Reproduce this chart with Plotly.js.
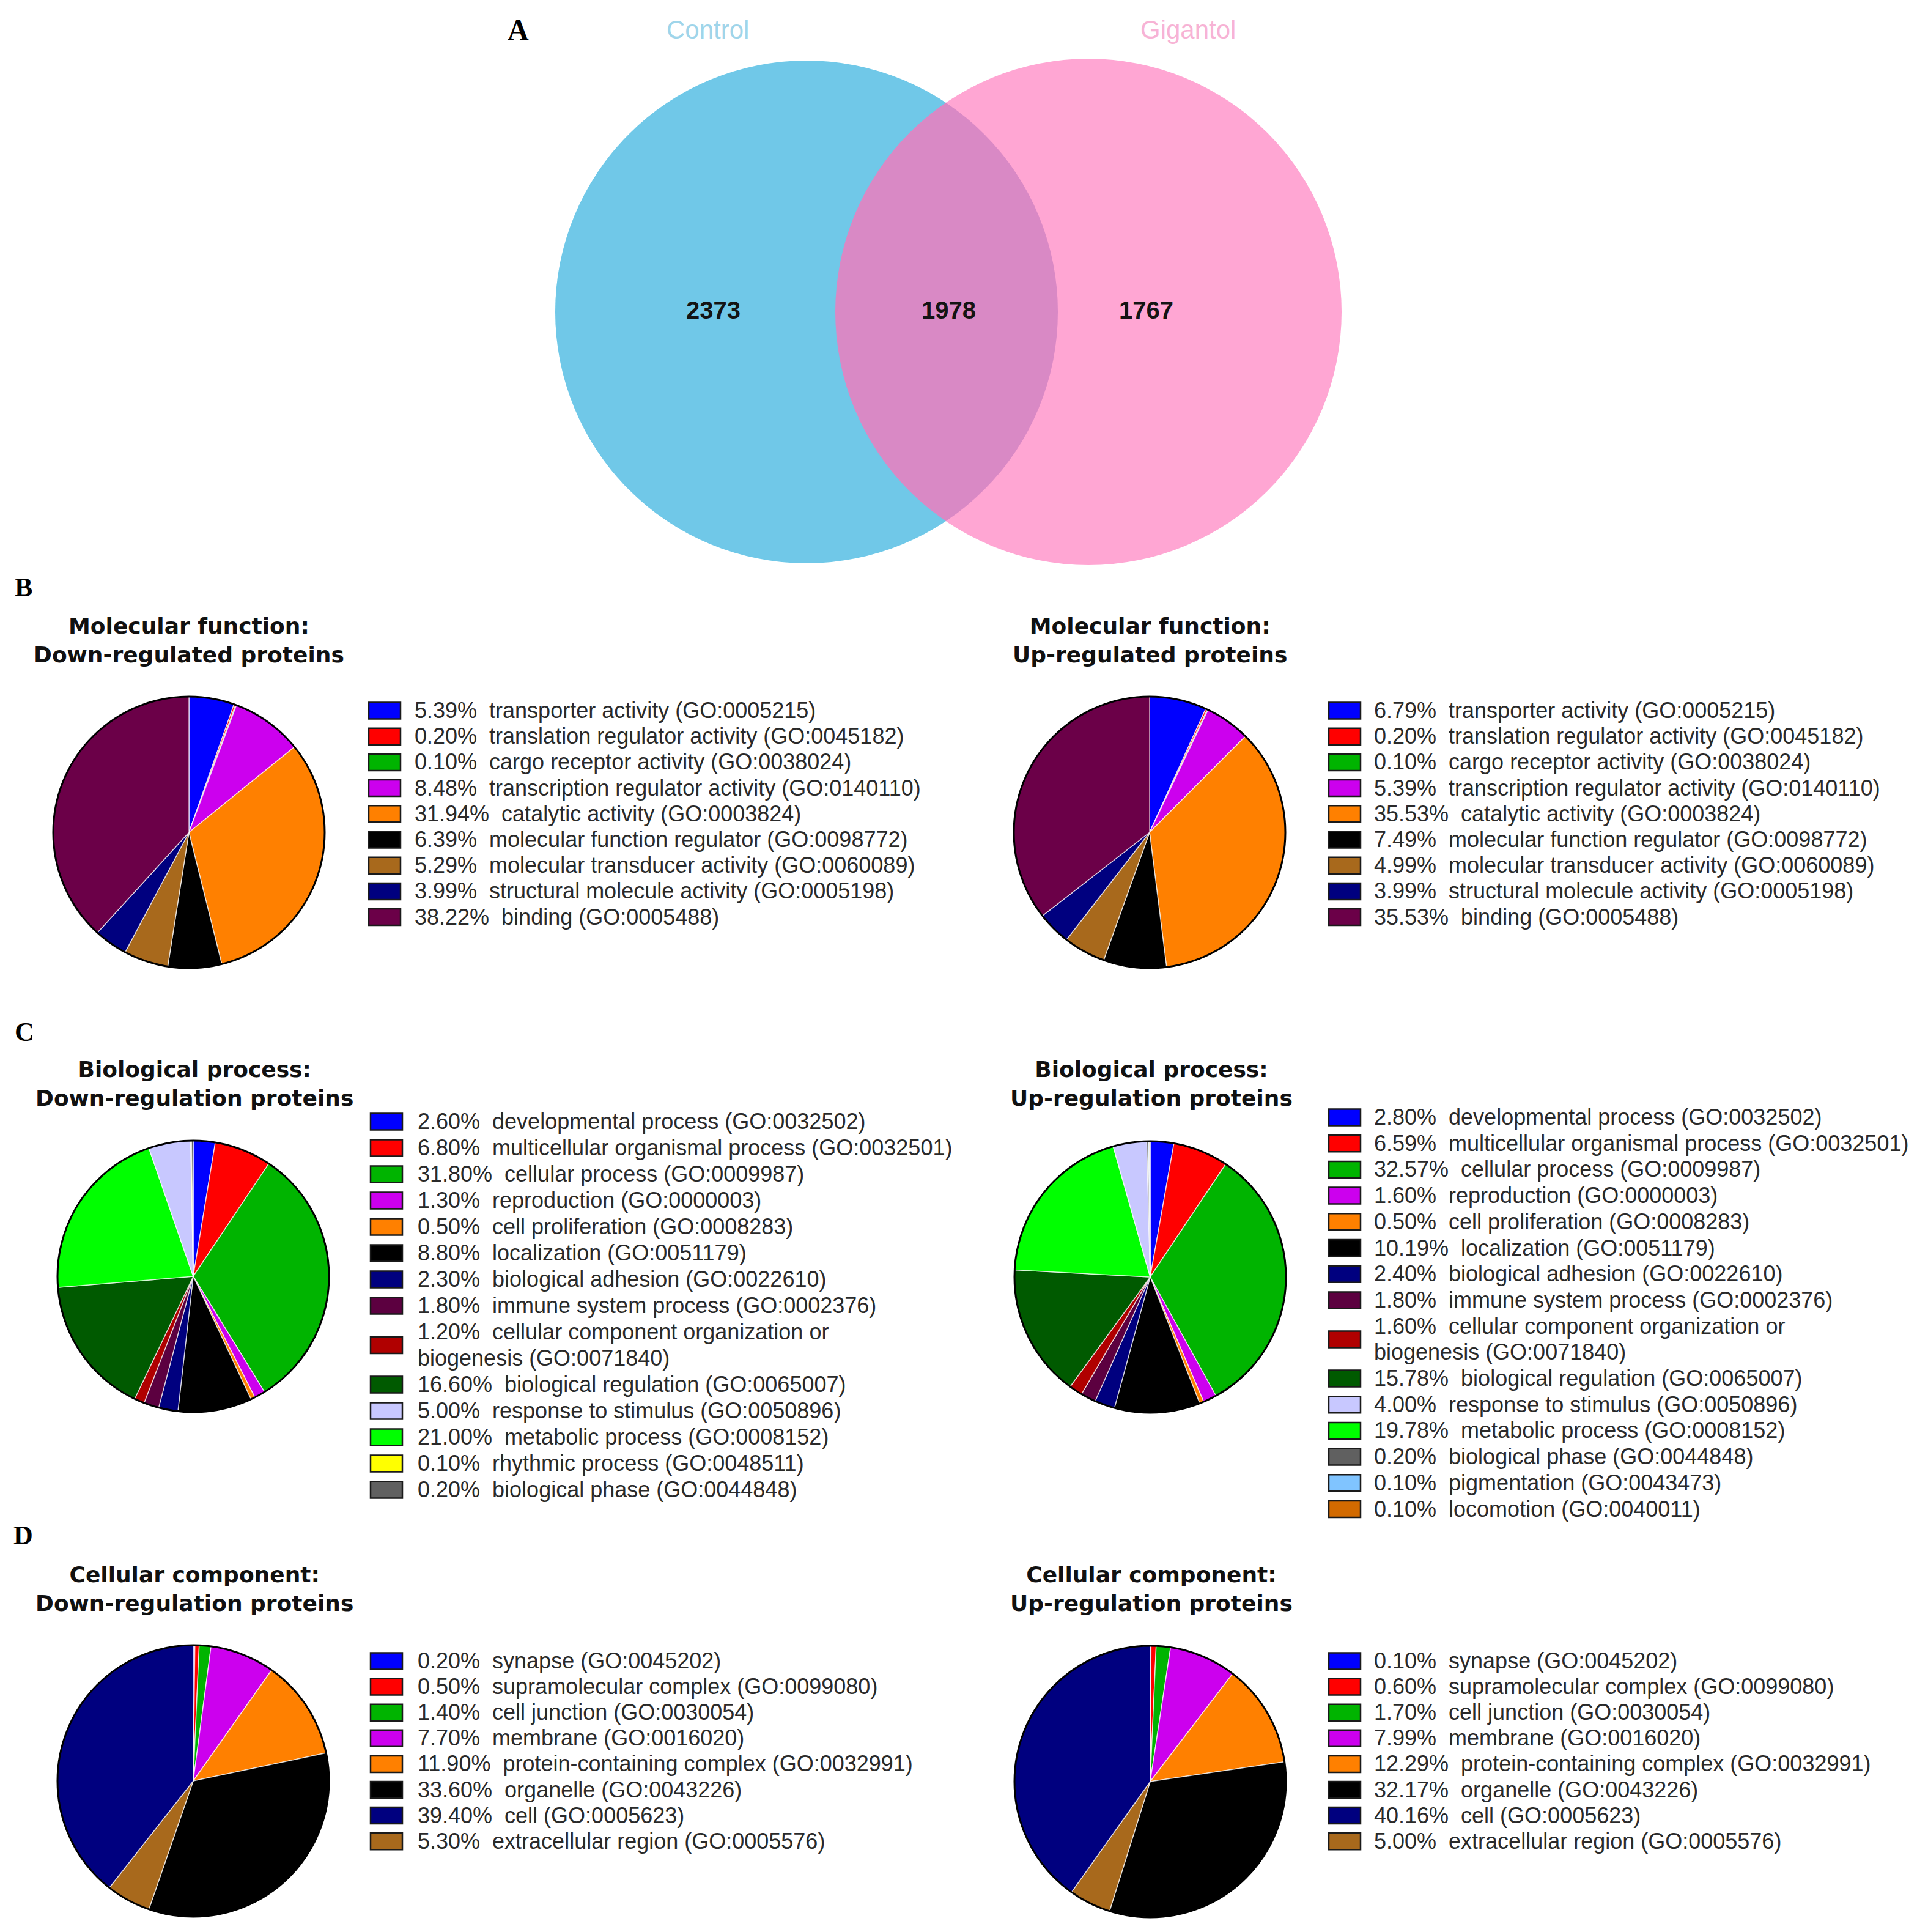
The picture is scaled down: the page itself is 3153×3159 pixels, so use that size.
<!DOCTYPE html>
<html>
<head>
<meta charset="utf-8">
<script src="https://cdn.plot.ly/plotly-3.0.1.min.js"></script>
<style>
html,body{margin:0;padding:0;background:#ffffff;}
#chart{width:3153px;height:3159px;}
</style>
</head>
<body>
<div id="chart"></div>
<script>
// ---------------- DATA ----------------
const vennSets = ["Control", "Gigantol"];
const vennCounts = [2373, 1978, 1767]; // Control only, shared, Gigantol only

const chartTitles = [
  "Molecular function:<br>Down-regulated proteins",
  "Molecular function:<br>Up-regulated proteins",
  "Biological process:<br>Down-regulation proteins",
  "Biological process:<br>Up-regulation proteins",
  "Cellular component:<br>Down-regulation proteins",
  "Cellular component:<br>Up-regulation proteins"
];
const panelLetters = ["A", "B", "C", "D"];

const mfLabels = [
  "transporter activity (GO:0005215)",
  "translation regulator activity (GO:0045182)",
  "cargo receptor activity (GO:0038024)",
  "transcription regulator activity (GO:0140110)",
  "catalytic activity (GO:0003824)",
  "molecular function regulator (GO:0098772)",
  "molecular transducer activity (GO:0060089)",
  "structural molecule activity (GO:0005198)",
  "binding (GO:0005488)"
];
const mfDownValues = [5.39, 0.20, 0.10, 8.48, 31.94, 6.39, 5.29, 3.99, 38.22];
const mfUpValues   = [6.79, 0.20, 0.10, 5.39, 35.53, 7.49, 4.99, 3.99, 35.53];
const mfColors = ["#0000ff", "#ff0000", "#00b400", "#cc00ee", "#ff8000", "#000000", "#a8691c", "#00007f", "#6b0048"];
const mfPieOrder = [0, 1, 2, 3, 4, 5, 6, 7, 8];

const bpDownLabels = [
  "developmental process (GO:0032502)",
  "multicellular organismal process (GO:0032501)",
  "cellular process (GO:0009987)",
  "reproduction (GO:0000003)",
  "cell proliferation (GO:0008283)",
  "localization (GO:0051179)",
  "biological adhesion (GO:0022610)",
  "immune system process (GO:0002376)",
  "cellular component organization or<br>biogenesis (GO:0071840)",
  "biological regulation (GO:0065007)",
  "response to stimulus (GO:0050896)",
  "metabolic process (GO:0008152)",
  "rhythmic process (GO:0048511)",
  "biological phase (GO:0044848)"
];
const bpDownValues = [2.60, 6.80, 31.80, 1.30, 0.50, 8.80, 2.30, 1.80, 1.20, 16.60, 5.00, 21.00, 0.10, 0.20];
const bpDownColors = ["#0000ff", "#ff0000", "#00b400", "#cc00ee", "#ff8000", "#000000", "#00007f", "#5c0040", "#b00000", "#005a00", "#c8c8ff", "#00ff00", "#ffff00", "#606060"];
const bpDownPieOrder = [0, 1, 2, 3, 4, 5, 6, 7, 8, 9, 11, 10, 12, 13];

const bpUpLabels = [
  "developmental process (GO:0032502)",
  "multicellular organismal process (GO:0032501)",
  "cellular process (GO:0009987)",
  "reproduction (GO:0000003)",
  "cell proliferation (GO:0008283)",
  "localization (GO:0051179)",
  "biological adhesion (GO:0022610)",
  "immune system process (GO:0002376)",
  "cellular component organization or<br>biogenesis (GO:0071840)",
  "biological regulation (GO:0065007)",
  "response to stimulus (GO:0050896)",
  "metabolic process (GO:0008152)",
  "biological phase (GO:0044848)",
  "pigmentation (GO:0043473)",
  "locomotion (GO:0040011)"
];
const bpUpValues = [2.80, 6.59, 32.57, 1.60, 0.50, 10.19, 2.40, 1.80, 1.60, 15.78, 4.00, 19.78, 0.20, 0.10, 0.10];
const bpUpColors = ["#0000ff", "#ff0000", "#00b400", "#cc00ee", "#ff8000", "#000000", "#00007f", "#5c0040", "#b00000", "#005a00", "#c8c8ff", "#00ff00", "#606060", "#80c4ff", "#d26a00"];
const bpUpPieOrder = [0, 1, 2, 3, 4, 5, 6, 7, 8, 9, 11, 10, 12, 13, 14];

const ccLabels = [
  "synapse (GO:0045202)",
  "supramolecular complex (GO:0099080)",
  "cell junction (GO:0030054)",
  "membrane (GO:0016020)",
  "protein-containing complex (GO:0032991)",
  "organelle (GO:0043226)",
  "cell (GO:0005623)",
  "extracellular region (GO:0005576)"
];
const ccDownValues = [0.20, 0.50, 1.40, 7.70, 11.90, 33.60, 39.40, 5.30];
const ccUpValues   = [0.10, 0.60, 1.70, 7.99, 12.29, 32.17, 40.16, 5.00];
const ccColors = ["#0000ff", "#ff0000", "#00b400", "#cc00ee", "#ff8000", "#000000", "#00007f", "#a8691c"];
const ccPieOrder = [0, 1, 2, 3, 4, 5, 7, 6];

// ---------------- LAYOUT GEOMETRY (pixels) ----------------
const W = 3153, H = 3159;
const pieR = 222;
const swatchW = 52, swatchH = 27;
const panels = [
  {pie: [309, 1361],  title: [309, 1047],  leg: {sx: 603,  tx: 678,  y0: 1162, dy: 42.2}},
  {pie: [1880, 1361], title: [1880, 1047], leg: {sx: 2173, tx: 2247, y0: 1162, dy: 42.2}},
  {pie: [316, 2087],  title: [318, 1772],  leg: {sx: 606,  tx: 683,  y0: 1834, dy: 43.0}},
  {pie: [1881, 2088], title: [1883, 1772], leg: {sx: 2173, tx: 2247, y0: 1827, dy: 42.7}},
  {pie: [316, 2912],  title: [318, 2598],  leg: {sx: 606,  tx: 683,  y0: 2716, dy: 42.1}},
  {pie: [1881, 2913], title: [1883, 2598], leg: {sx: 2173, tx: 2247, y0: 2716, dy: 42.1}}
];
const letterPos = [[847, 48], [38, 960], [40, 1687], [38, 2510]];
const vennCircles = [{cx: 1319, cy: 510, r: 411}, {cx: 1780, cy: 510, r: 414}];
const vennLabelPos = [[1157, 48], [1943, 48]];
const vennCountPos = [[1166, 507], [1551, 507], [1874, 507]];

const charts = [
  {labels: mfLabels, values: mfDownValues, colors: mfColors, order: mfPieOrder},
  {labels: mfLabels, values: mfUpValues, colors: mfColors, order: mfPieOrder},
  {labels: bpDownLabels, values: bpDownValues, colors: bpDownColors, order: bpDownPieOrder},
  {labels: bpUpLabels, values: bpUpValues, colors: bpUpColors, order: bpUpPieOrder},
  {labels: ccLabels, values: ccDownValues, colors: ccColors, order: ccPieOrder},
  {labels: ccLabels, values: ccUpValues, colors: ccColors, order: ccPieOrder}
];

const traces = [], shapes = [], annotations = [];
const legendFont = {family: "Liberation Sans, Arial, sans-serif", size: 36, color: "#2a2a2a"};

// ---------- Venn ----------
const vb = vennCircles[0], vp = vennCircles[1];
function circ(c, fill, opacity) {
  return {type: "circle", xref: "x", yref: "y", x0: c.cx - c.r, x1: c.cx + c.r, y0: c.cy - c.r, y1: c.cy + c.r,
          fillcolor: fill, opacity: opacity, line: {width: 0}, layer: "below"};
}
shapes.push(circ(vb, "rgb(124,244,254)", 1));
shapes.push(circ(vp, "rgb(255,166,211)", 1));
shapes.push(circ(vb, "rgb(65,26,146)", 0.2));

const vennLabelColors = ["#9fd5ea", "#f7b3d5"];
vennSets.forEach((s, i) => {
  annotations.push({xref: "x", yref: "y", x: vennLabelPos[i][0], y: vennLabelPos[i][1], text: s, showarrow: false,
    xanchor: "center", yanchor: "middle",
    font: {family: "Liberation Sans, Arial, sans-serif", size: 42, color: vennLabelColors[i]}});
});
vennCounts.forEach((n, i) => {
  annotations.push({xref: "x", yref: "y", x: vennCountPos[i][0], y: vennCountPos[i][1], text: String(n), showarrow: false,
    xanchor: "center", yanchor: "middle",
    font: {family: "Liberation Sans, Arial, sans-serif", size: 40, color: "#141414", weight: 700}});
});

panelLetters.forEach((L, i) => {
  annotations.push({xref: "x", yref: "y", x: letterPos[i][0], y: letterPos[i][1], text: L, showarrow: false,
    xanchor: "center", yanchor: "middle",
    font: {family: "Liberation Serif, Times New Roman, serif", size: i === 0 ? 48 : 44, color: "#000", weight: 700}});
});

// ---------- Pies + legends ----------
function pct(v) { return v.toFixed(2) + "%"; }

charts.forEach((c, i) => {
  const g = panels[i];
  const cx = g.pie[0], cy = g.pie[1], r = pieR;
  traces.push({
    type: "pie",
    labels: c.order.map(k => c.labels[k].replace("<br>", " ")),
    values: c.order.map(k => c.values[k]),
    marker: {colors: c.order.map(k => c.colors[k]), line: {color: "rgba(255,255,255,0.7)", width: 1.5}},
    sort: false, direction: "clockwise", rotation: 0,
    textinfo: "none", hoverinfo: "label+percent", showlegend: false,
    domain: {x: [(cx - r) / W, (cx + r) / W], y: [1 - (cy + r) / H, 1 - (cy - r) / H]}
  });
  shapes.push({type: "circle", xref: "x", yref: "y", x0: cx - r, x1: cx + r, y0: cy - r, y1: cy + r,
    line: {color: "#000000", width: 3}, fillcolor: "rgba(0,0,0,0)", layer: "above"});

  annotations.push({xref: "x", yref: "y", x: g.title[0], y: g.title[1], text: chartTitles[i], showarrow: false,
    xanchor: "center", yanchor: "middle", align: "center",
    font: {family: "DejaVu Sans, sans-serif", size: 36, color: "#111", weight: 700}});

  let line = 0;
  const rowY = [], lx = [], ly = [], lt = [];
  c.labels.forEach((lab, k) => {
    const parts = lab.split("<br>");
    rowY.push(g.leg.y0 + g.leg.dy * (line + (parts.length - 1) / 2));
    parts.forEach((p, j) => {
      lx.push(g.leg.tx);
      ly.push(g.leg.y0 + g.leg.dy * (line + j) + 3);
      lt.push(j === 0 ? pct(c.values[k]) + "\u00a0\u00a0" + p : p);
    });
    line += parts.length;
  });
  traces.push({
    type: "bar", orientation: "h", xaxis: "x", yaxis: "y",
    y: rowY, x: rowY.map(() => swatchW), base: g.leg.sx, width: swatchH,
    marker: {color: c.colors, line: {color: "#1a1a1a", width: 2.5}},
    hoverinfo: "skip", showlegend: false
  });
  traces.push({
    type: "scatter", mode: "text", xaxis: "x", yaxis: "y",
    x: lx, y: ly, text: lt, textposition: "middle right",
    textfont: legendFont, hoverinfo: "skip", showlegend: false, cliponaxis: false
  });
});

const layout = {
  width: W, height: H,
  margin: {l: 0, r: 0, t: 0, b: 0, pad: 0},
  paper_bgcolor: "#ffffff", plot_bgcolor: "rgba(0,0,0,0)",
  showlegend: false, barmode: "overlay",
  xaxis: {range: [0, W], visible: false, fixedrange: true, domain: [0, 1]},
  yaxis: {range: [H, 0], visible: false, fixedrange: true, domain: [0, 1]},
  shapes: shapes, annotations: annotations
};

Plotly.newPlot("chart", traces, layout, {displayModeBar: false, responsive: false});
</script>
</body>
</html>
